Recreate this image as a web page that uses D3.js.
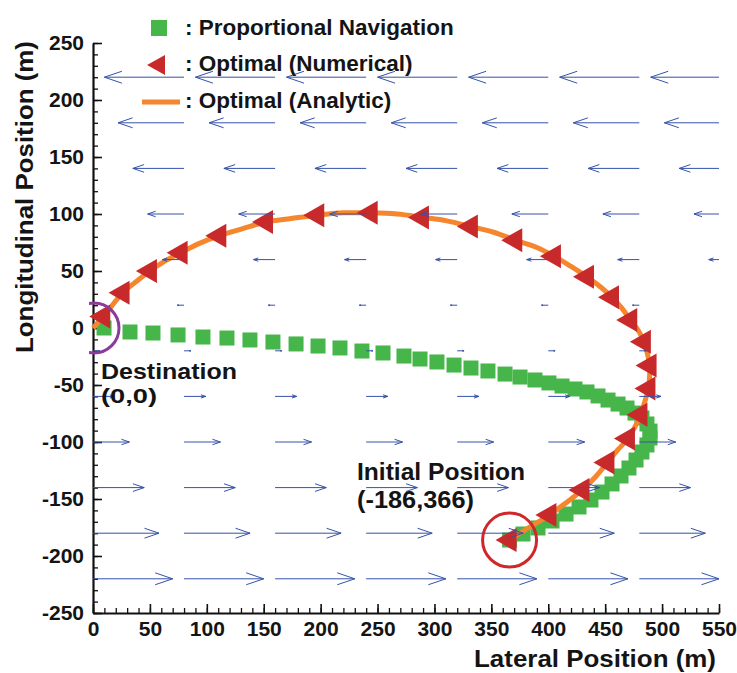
<!DOCTYPE html>
<html><head><meta charset="utf-8">
<script src="https://cdn.jsdelivr.net/npm/d3@7"></script>
<style>
body{margin:0;background:#fff}
svg{display:block}
text{font-family:"Liberation Sans",Arial,Helvetica,sans-serif;font-weight:bold;fill:#141414}
</style>
</head><body>
<svg id="c" width="737" height="673"></svg>
<script>
// ---- data (metres) ----
// Proportional Navigation trajectory (green squares)
const pnX = [366,377.8,391,403.3,415.6,427,437.5,447.2,456,463.9,470.9,477.1,482.3,486.7,489.4,489.4,486.7,482.3,476.2,469.2,461.3,452.5,443.7,434,423.5,412.1,400.6,388.3,375.2,362,347,332.1,317.2,302.2,287.3,273.2,254.8,236.3,217,197.7,178.4,158.1,137.9,117.7,96.6,74.7,52.7,32.5,9.7];
const pnY = [-186,-180.7,-175.4,-169.3,-163.2,-157,-150.9,-143.9,-136.8,-129.8,-122.8,-115.8,-108.8,-102.6,-96.5,-90.4,-84.2,-78.9,-74.6,-70.2,-66.7,-63.2,-59.6,-56.1,-53.5,-50.9,-48.2,-45.6,-43,-40.4,-37.7,-35.1,-32.5,-29.8,-27.2,-24.6,-21.9,-20.2,-17.5,-15.8,-14,-12.3,-10.5,-8.8,-7.9,-6.1,-4.4,-3.5,0];
// Optimal (Numerical) (red triangles)
const numX = [366,401,430,452,470,481,488,489,484,472,456,434,405,371,332,289,244,197,152,111,77,50,26,9];
const numY = [-186,-164,-142,-118,-97,-76,-53,-33,-12,7,27,45,63,77,89,97,101,99,93,81,66,50,31,10];
// Optimal (Analytic) (orange line)
const anX = [366,383,401,416,430,442,452,461,470,476,481,485,488,489,489,487,484,479,472,465,456,446,434,420,405,389,371,352,332,311,290,267,244,220,197,174,152,131,111,93,77,62,50,37,26,17,9,0];
const anY = [-186,-175,-164,-153,-142,-130,-118,-107,-97,-87,-76,-64,-53,-43,-33,-22,-12,-2,7,17,27,36,45,54,63,71,77,84,89,94,97,100,101,101,99,96,93,87,81,74,66,58,50,40,31,20,10,0];
// wind field: arrow tails (x per column, y per row) and lateral wind component per row
const windX = [0,80,160,240,320,400,480,560];
const windY = [220,180,140,100,60,20,-20,-60,-100,-140,-180,-220];
const windU = [-70,-58,-45,-32,-19,-6,6,19,32,45,58,70];
// ticks
const xTicks = [0,50,100,150,200,250,300,350,400,450,500,550];
const yTicks = [-250,-200,-150,-100,-50,0,50,100,150,200,250];
const initialPoint = [366,-186];
const destination = [0,0];

// ---- layout ----
const svg = d3.select("#c");
const x = d3.scaleLinear().domain([0,550]).range([93,719]);
const y = d3.scaleLinear().domain([-250,250]).range([613,43]);

const defs = svg.append("defs");
defs.append("clipPath").attr("id","plot").append("rect")
  .attr("x",93).attr("y",43).attr("width",626).attr("height",570);
defs.append("clipPath").attr("id","plotwide").append("rect")
  .attr("x",89).attr("y",0).attr("width",648).attr("height",673);

// axes - minor ticks
svg.append("g").attr("transform","translate(0,613)")
  .call(d3.axisBottom(x).ticks(55).tickSize(-5).tickFormat(""))
  .call(g=>g.select(".domain").remove())
  .call(g=>g.selectAll("line").attr("stroke","#111").attr("stroke-width",1.3));
svg.append("g").attr("transform","translate(93,0)")
  .call(d3.axisLeft(y).ticks(50).tickSize(-5).tickFormat(""))
  .call(g=>g.select(".domain").remove())
  .call(g=>g.selectAll("line").attr("stroke","#111").attr("stroke-width",1.3));

// major
const xa = svg.append("g").attr("transform","translate(0,613)")
  .call(d3.axisBottom(x).tickValues(xTicks).tickSize(-9).tickSizeOuter(0).tickPadding(8).tickFormat(d=>String(d)));
const ya = svg.append("g").attr("transform","translate(93,0)")
  .call(d3.axisLeft(y).tickValues(yTicks).tickSize(-9).tickSizeOuter(0).tickPadding(9).tickFormat(d=>String(d)));
[xa,ya].forEach(a=>{
  a.select(".domain").attr("stroke","#111").attr("stroke-width",2.2);
  a.selectAll(".tick line").attr("stroke","#111").attr("stroke-width",1.6);
  a.selectAll(".tick text").attr("font-size",21).attr("font-family",null).attr("fill","#141414");
});

// trajectories
const plot = svg.append("g").attr("clip-path","url(#plotwide)");

plot.append("g").selectAll("rect").data(pnX.map((v,i)=>[v,pnY[i]])).join("rect")
  .attr("x",d=>x(d[0])-7.5).attr("y",d=>y(d[1])-7.5).attr("width",15).attr("height",15)
  .attr("fill","#46b64a");

plot.append("path").datum(anX.map((v,i)=>[v,anY[i]]))
  .attr("d",d3.line().x(d=>x(d[0])).y(d=>y(d[1])).curve(d3.curveCatmullRom))
  .attr("fill","none").attr("stroke","#f5862e").attr("stroke-width",5);

const tri = (cx,cy,w,h)=>`M${cx-2*w/3},${cy}L${cx+w/3},${cy-h/2}L${cx+w/3},${cy+h/2}Z`;
plot.append("g").selectAll("path").data(numX.map((v,i)=>[v,numY[i]])).join("path")
  .attr("d",d=>tri(x(d[0]),y(d[1]),21,24)).attr("fill","#c8292b");

// circles
plot.append("circle").attr("cx",x(destination[0])+1).attr("cy",y(destination[1])).attr("r",25)
  .attr("fill","none").attr("stroke","#8d3b9b").attr("stroke-width",3);
plot.append("circle").attr("cx",x(initialPoint[0])).attr("cy",y(initialPoint[1])).attr("r",27)
  .attr("fill","none").attr("stroke","#d0282a").attr("stroke-width",3);

// wind arrows (drawn on top)
const wind = svg.append("g").attr("clip-path","url(#plot)")
  .attr("fill","none").attr("stroke","#3652a8").attr("stroke-width",1);
windY.forEach((wy,i)=>{
  windX.forEach(wx=>{
    const x0 = x(wx), x1 = x(wx+windU[i]), py = y(wy);
    const L = Math.abs(x1-x0), dir = Math.sign(x1-x0);
    const h = 0.22*L, w = 0.34*h;
    wind.append("path")
      .attr("d",`M${x0},${py}L${x1},${py}M${x1-dir*h},${py-w}L${x1},${py}L${x1-dir*h},${py+w}`);
  });
});

// annotations
const label = (tx,ty,s,len,fs)=>svg.append("text").attr("x",tx).attr("y",ty).attr("font-size",fs)
  .attr("textLength",len).attr("lengthAdjust","spacingAndGlyphs").text(s);
label(101,379,"Destination",136,22);
label(101,403,"(0,0)",56,21);
label(357,480,"Initial Position",168,23);
label(357,508,"(-186,366)",117,23);

// axis titles
svg.append("text").attr("x",474).attr("y",667).attr("font-size",23)
  .attr("textLength",242).attr("lengthAdjust","spacingAndGlyphs")
  .text("Lateral Position (m)");
svg.append("text").attr("transform","translate(33,353) rotate(-90)")
  .attr("font-size",23).attr("textLength",312).attr("lengthAdjust","spacingAndGlyphs")
  .text("Longitudinal Position (m)");

// legend
const lg = svg.append("g");
lg.append("rect").attr("x",151).attr("y",20).attr("width",16).attr("height",16).attr("fill","#46b64a");
lg.append("path").attr("d","M147,65L165,55L165,75Z").attr("fill","#c8292b");
lg.append("line").attr("x1",142).attr("x2",180).attr("y1",102).attr("y2",102)
  .attr("stroke","#f5862e").attr("stroke-width",5);
lg.append("text").attr("x",185).attr("y",35).attr("font-size",22.5).text(": Proportional Navigation");
lg.append("text").attr("x",185).attr("y",71).attr("font-size",22.5).text(": Optimal (Numerical)");
lg.append("text").attr("x",185).attr("y",108).attr("font-size",22.5).text(": Optimal (Analytic)");
</script>
</body></html>
